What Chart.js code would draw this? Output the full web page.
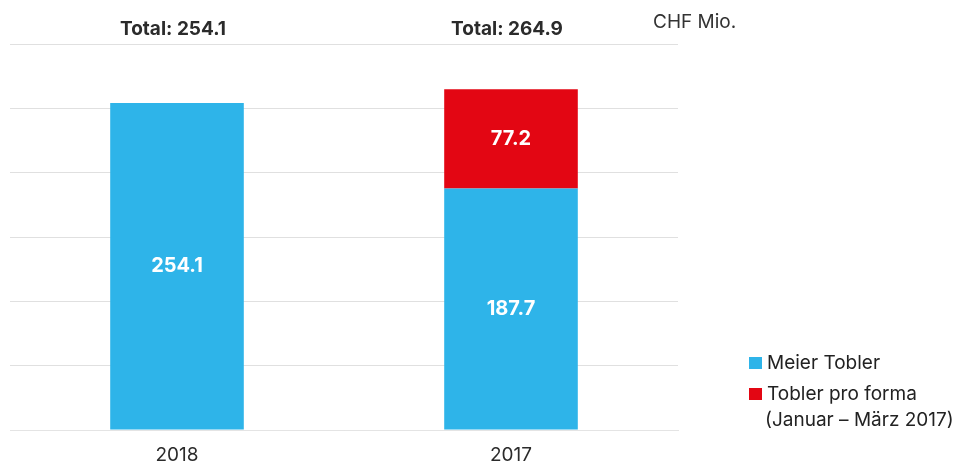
<!DOCTYPE html>
<html>
<head>
<meta charset="utf-8">
<script src="https://cdn.jsdelivr.net/npm/chart.js@4/dist/chart.umd.min.js"></script>
<style>
  html, body { margin: 0; padding: 0; background: #fff; }
  #wrap { position: relative; width: 955px; height: 464px; }
</style>
</head>
<body>
<div id="wrap"><canvas id="chart" width="955" height="464"></canvas></div>
<script>
const years = ["2018", "2017"];
const meierTobler = [254.1, 187.7];
const toblerProForma = [null, 77.2];
const legendMeier = ["Meier Tobler"];
const legendTobler = ["Tobler pro forma", "(Januar – März 2017)"];
const unitLabel = "CHF Mio.";

const blue = "#2eb4e9";
const red = "#e30613";
const font = "Inter, 'Liberation Sans', sans-serif";

// totals above each bar, bar value labels, unit label and legend
const extras = {
  id: "extras",
  afterDatasetsDraw(chart) {
    const ctx = chart.ctx;
    const x = chart.scales.x;
    ctx.save();
    ctx.textAlign = "center";
    ctx.textBaseline = "middle";

    // labels inside the bars
    chart.data.datasets.forEach((ds, di) => {
      const meta = chart.getDatasetMeta(di);
      meta.data.forEach((bar, i) => {
        if (ds.data[i] == null) return;
        ctx.fillStyle = "#fff";
        ctx.font = "bold 20px " + font;
        ctx.fillText(ds.data[i].toFixed(1), bar.x, (bar.y + bar.base) / 2);
      });
    });

    // totals
    years.forEach((y, i) => {
      const total = (meierTobler[i] || 0) + (toblerProForma[i] || 0);
      ctx.fillStyle = "#2b2b2b";
      ctx.font = "bold 19px " + font;
      ctx.fillText("Total: " + total.toFixed(1), x.getPixelForValue(i) - 4, 29);
    });

    // unit
    ctx.textAlign = "left";
    ctx.fillStyle = "#333";
    ctx.font = "19px " + font;
    ctx.fillText(unitLabel, 653, 22);

    // legend
    const items = [
      { color: blue, lines: legendMeier, y: 363 },
      { color: red, lines: legendTobler, y: 394 }
    ];
    items.forEach(it => {
      ctx.fillStyle = it.color;
      ctx.fillRect(749, it.y - 6, 13, 12);
      ctx.fillStyle = "#222";
      ctx.font = "19px " + font;
      it.lines.forEach((l, k) => {
        ctx.fillText(l, k === 0 ? 767 : 765, it.y + k * 26);
      });
    });
    ctx.restore();
  }
};

new Chart(document.getElementById("chart"), {
  type: "bar",
  data: {
    labels: years,
    datasets: [
      { label: "Meier Tobler", data: meierTobler, backgroundColor: blue },
      { label: "Tobler pro forma", data: toblerProForma, backgroundColor: red }
    ]
  },
  options: {
    responsive: false,
    animation: false,
    layout: { padding: { left: 10, right: 277, top: 44, bottom: 0 } },
    plugins: { legend: { display: false }, tooltip: { enabled: false } },
    datasets: { bar: { categoryPercentage: 1, barPercentage: 0.4 } },
    scales: {
      x: {
        stacked: true,
        grid: { display: false },
        border: { display: true, color: "#e4e4e4", width: 1 },
        ticks: { color: "#2b2b2b", font: { family: font, size: 19 }, padding: 6 },
        afterFit(scale) { scale.height = 34; }
      },
      y: {
        stacked: true,
        min: 0,
        max: 300,
        ticks: { display: false, stepSize: 50 },
        border: { display: false },
        grid: { color: "#e0e0e0", drawTicks: false }
      }
    }
  },
  plugins: [extras]
});
</script>
</body>
</html>
